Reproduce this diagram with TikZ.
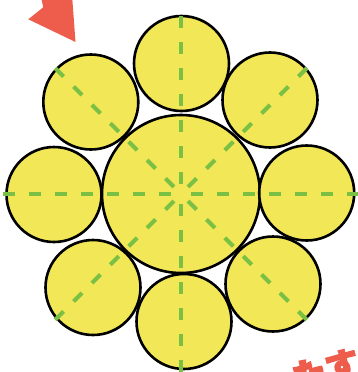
\documentclass[tikz,border=0pt]{standalone}
\usepackage{fontspec}
\newfontfamily\jpfont{Noto Sans CJK JP}[FakeBold=4]
\usetikzlibrary{calc}
\definecolor{myyellow}{RGB}{242,231,87}
\definecolor{mygreen}{RGB}{122,192,68}
\definecolor{myred}{RGB}{238,92,76}

\begin{document}
\begin{tikzpicture}[x=1pt,y=-1pt,
    wire/.style={draw=black, fill=myyellow, line width=2.6pt},
    axisline/.style={draw=mygreen, line width=4pt, dash pattern=on 12pt off 14pt}]
  \def\Rbig{79}
  \def\Rsmall{47.5}
  \useasboundingbox (0,0) rectangle (358,372);
  \clip (0,0) rectangle (358,372);

  % red arrow, top left
  \fill[myred] (40.5,-5) -- (43.3,7.3) -- (28.3,19.3) -- (75.5,42) -- (72,-5) -- cycle;

  % strands
  \coordinate (core) at (181,194);
  \draw[wire] (core) circle (\Rbig);
  \foreach \x/\y in {181.5/63.5, 270/100, 306.7/193, 273/284, 184/321.5, 93/287.5, 54/194.5, 90.8/102}
    \draw[wire] (\x,\y) circle (\Rsmall);

  % center lines
  \foreach \a in {0,45,...,315}
    \draw[axisline] ($(core)+(\a:10)$) -- ($(core)+(\a:178)$);

  % red text, bottom right
  \node[text=myred, rotate=15, font=\jpfont\bfseries\fontsize{34}{34}\selectfont] (caption) at (326,370) {たす};
\end{tikzpicture}
\end{document}
